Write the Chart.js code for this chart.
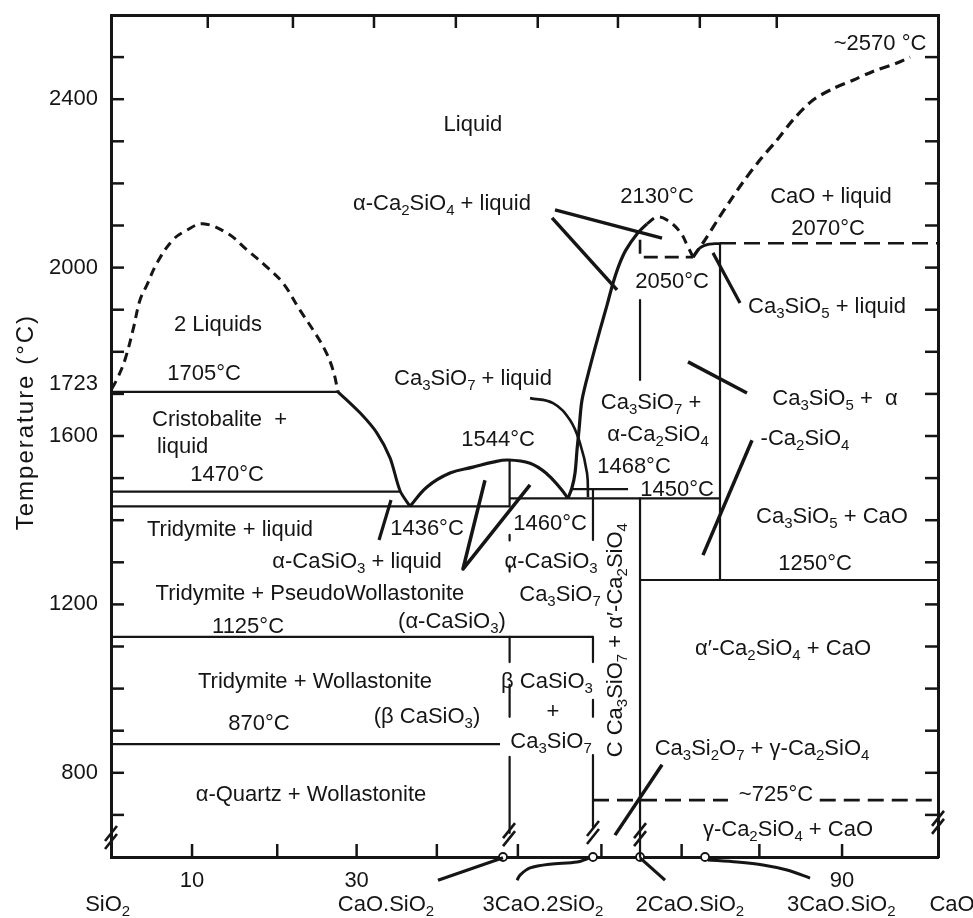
<!DOCTYPE html>
<html><head><meta charset="utf-8">
<script src="https://cdn.jsdelivr.net/npm/chart.js@4.4.1/dist/chart.umd.min.js"></script>
<style>html,body{margin:0;padding:0;background:#fff;}</style>
</head><body>
<canvas id="c" width="973" height="918"></canvas>
<script>
const INK = '#151515';
const FONT = '"Liberation Sans", Arial, sans-serif';

// ---- axes ----
const tempMin = 600, tempMax = 2600;
const yMinorTicks = [700,800,900,1000,1100,1200,1300,1400,1500,1600,1700,1800,1900,2000,2100,2200,2300,2400,2500];
const yLabelled = [800,1200,1600,1723,2000,2400];
const bottomTickPos = [9.8,20.1,29.7,39.4,49.2,59.3,69.0,78.4,88.4];
const bottomTickText = ['10','','30','','','','','','90'];
const topTickPos = [11.7,22.0,31.8,41.7,51.6,61.3,71.2,80.5];
const compoundNames = ['SiO_2','CaO.SiO_2','3CaO.2SiO_2','2CaO.SiO_2','3CaO.SiO_2','CaO'];
const compoundLabelPos = [-0.4,33.25,52.24,70.0,88.3,101.7];
const compoundMarkPos = [47.4,58.28,63.97,71.83];
const breakU = [0,48.13,58.28,63.97,100];
const breakT = [645,652,657,652,681];

// ---- phase boundaries [composition position, temperature] ----
const miscibilityGap = [[0.1,1712],[0.85,1740],[1.69,1781],[2.66,1852],[3.51,1923],[4.35,1959],[5.56,2011],[7.5,2066],[9.19,2089],[11.12,2104],[14.03,2082],[16.45,2042],[18.86,2001],[20.8,1963],[22.85,1899],[24.43,1852],[25.88,1804],[26.84,1757],[27.45,1705]];
const cristobaliteLiquidus = [[27.45,1705],[30.11,1655],[32.16,1607],[33.74,1548],[34.95,1470],[36.16,1433]];
const wollastoniteLiquidus = [[36.16,1433],[38.21,1479],[40.99,1512],[43.77,1526],[46.19,1538],[48.01,1543],[50.67,1535],[52.72,1510],[54.29,1477],[55.26,1452]];
const dicalciumLiquidus = [[55.26,1452],[55.74,1477],[56.11,1512],[56.35,1567],[56.59,1614],[56.95,1685],[57.92,1764],[59.13,1852],[59.98,1911],[60.7,1963],[61.43,2006],[62.27,2042],[63.6,2080],[64.81,2104]];
const dicalciumTop = [[64.81,2104],[66.02,2120],[67.23,2113],[68.8,2085],[69.77,2049],[70.38,2025]];
const limeLiquidus = [[70.38,2025],[71.83,2066],[73.28,2111],[74.85,2158],[76.42,2203],[78.48,2256],[80.53,2303],[82.47,2351],[84.89,2398],[87.3,2425],[89.72,2445],[92.14,2466],[95.04,2486],[96.62,2500]];
const tricalciumHump = [[70.38,2025],[71.22,2047],[72.43,2056],[73.64,2057]];

const isotherm1705 = [[0,1705],[27.45,1705]];
const isotherm1470 = [[0,1468],[34.95,1468]];
const isotherm1436 = [[0,1433],[48.2,1433]];
const isotherm1460 = [[48.2,1452],[73.64,1452]];
const isotherm1468 = [[55.74,1474],[62.52,1474]];
const isotherm1250 = [[63.97,1258],[100,1258]];
const isotherm1125 = [[0,1123],[58.28,1123]];
const isotherm870 = [[0,868],[47.04,868]];
const isotherm2070 = [[73.64,2058],[100,2058]];
const isotherm2050 = [[63.97,2066],[63.97,2025],[70.38,2025]];
const isotherm725 = [[58.28,735],[74.6,735],null,[85.7,735],[100,735]];

const wollastoniteLine = [[48.2,1543],[48.2,1433],null,[48.2,1365],[48.2,1352],null,[48.2,1292],[48.2,1278],null,[48.2,1123],[48.2,1063],null,[48.2,1009],[48.2,933],null,[48.2,838],[48.2,657]];
const rankiniteLine = [[58.28,1474],[58.28,1353],null,[58.28,1123],[58.28,1063],null,[58.28,973],[58.28,933],null,[58.28,842],[58.28,671]];
const dicalciumLine = [[63.97,1923],[63.97,1733],null,[63.97,1452],[63.97,600]];
const tricalciumLine = [[73.64,2057],[73.64,1258]];

// ---- label pointers ----
const pointerA = [[53.69,2137],[66.63,2070]];
const pointerB = [[53.33,2118],[61.19,1947]];
const pointerC = [[72.79,2035],[76.06,1916]];
const pointerD = [[50.67,1690],[53.45,1678],[55.5,1638],[56.71,1583],[57.56,1512],[57.68,1455]];
const pointerE = [[33.86,1448],[32.41,1353]];
const pointerF = [[45.22,1495],[42.56,1284],[50.67,1484]];
const pointerG = [[69.77,1776],[76.9,1702]];
const pointerH = [[77.51,1590],[71.58,1317]];
const pointerI = [[66.63,819],[60.94,652]];
const tagCaSiO3 = [[47.4,598],[39.54,545]];
const tagRankinite = [[57.92,598],[56.35,588],[53.09,583],[50.67,574],[49.46,557],[49.1,545]];
const tagDicalcium = [[63.97,598],[66.99,545]];
const tagTricalcium = [[72.19,593],[75.7,588],[78.84,581],[81.74,569],[84.53,550]];

// ---- region / temperature labels [text, position, temperature, align] ----
const regionLabels = [
 ['Liquid',43.77,2343],['α-Ca_2SiO_4 + liquid',40.02,2156],['2130°C',66.02,2172],['~2570 °C',92.99,2536],
 ['CaO + liquid',87.06,2172],['2070°C',86.7,2096],['2050°C',67.84,1971],['Ca_3SiO_5 + liquid',86.58,1911],
 ['2 Liquids',12.94,1868],['1705°C',11.25,1752],['Cristobalite  +',4.96,1643,'left'],['liquid',5.56,1579,'left'],
 ['1470°C',14.03,1512],['Ca_3SiO_7 + liquid',43.77,1740],['1544°C',46.8,1595],['Ca_3SiO_7 +',65.3,1683],
 ['α-Ca_2SiO_4',66.14,1607],['Ca_3SiO_5 +  α',87.55,1693],['-Ca_2SiO_4',83.92,1598],['1468°C',63.24,1531],
 ['1450°C',68.44,1477],['Tridymite + liquid',14.39,1381],['1436°C',38.21,1384],['1460°C',53.09,1396],
 ['Ca_3SiO_5 + CaO',87.18,1412],['α-CaSiO_3 + liquid',29.75,1305],['α-CaSiO_3',53.21,1305],['1250°C',85.13,1301],
 ['Tridymite + PseudoWollastonite',24.06,1229],['Ca_3SiO_7',54.29,1227],['(α-CaSiO_3)',41.23,1163],['1125°C',16.57,1151],
 ['α′-Ca_2SiO_4 + CaO',81.26,1099],['Tridymite + Wollastonite',24.67,1020],['β CaSiO_3',52.72,1020],['+',53.45,949],
 ['(β CaSiO_3)',38.21,937],['870°C',17.9,921],['Ca_3SiO_7',53.21,878],['Ca_3Si_2O_7 + γ-Ca_2SiO_4',78.72,861],
 ['α-Quartz + Wollastonite',24.18,752],['~725°C',80.41,752],['γ-Ca_2SiO_4 + CaO',81.86,669]
];
const verticalLabel = ['C Ca_3SiO_7 + α′-Ca_2SiO_4',60.82,1115];
const axisTitle = 'Temperature (°C)';
const axisTitleT = 1633;

// ---------- helpers ----------
function pts(a){ return a.map(p => p ? {x:p[0], y:p[1]} : {x:NaN, y:NaN}); }
function curve(points, width, dash, tension){
  return { data: pts(points), showLine:true, pointRadius:0, pointHoverRadius:0, borderColor:INK,
    borderWidth:width, borderDash:dash||[], tension:tension||0, fill:false, spanGaps:false,
    clip:false, xAxisID:'x', yAxisID:'y', borderCapStyle:'butt', borderJoinStyle:'round' };
}
function richParts(s){
  const parts=[]; let buf='';
  for(let i=0;i<s.length;i++){
    if(s[i]==='_'){ if(buf){parts.push([buf,false]);buf='';} parts.push([s[i+1],true]); i++; }
    else buf+=s[i];
  }
  if(buf) parts.push([buf,false]);
  return parts;
}
function drawRich(ctx, s, x, y, align, size){
  size = size || 22; const sub = Math.round(size*0.66);
  const parts = richParts(s);
  let w = 0;
  parts.forEach(p=>{ ctx.font = (p[1]?sub:size)+'px '+FONT; w += ctx.measureText(p[0]).width; });
  let cx = align==='left' ? x : (align==='right' ? x-w : x-w/2);
  const base = y + size*0.36;
  ctx.textAlign='left'; ctx.textBaseline='alphabetic';
  parts.forEach(p=>{
    ctx.font = (p[1]?sub:size)+'px '+FONT;
    ctx.fillText(p[0], cx, p[1] ? base + size*0.24 : base);
    cx += ctx.measureText(p[0]).width;
  });
}

const decor = {
  id:'decor',
  afterDatasetsDraw(chart){
    const {ctx, chartArea:a, scales} = chart;
    const {x, y, x2, y2} = scales;
    ctx.save();
    ctx.strokeStyle = INK; ctx.fillStyle = INK; ctx.lineWidth = 2.5; ctx.lineCap='butt';
    const L = 13;
    const seg = (x1,y1,x3,y3)=>{ ctx.beginPath(); ctx.moveTo(x1,y1); ctx.lineTo(x3,y3); ctx.stroke(); };
    x.ticks.forEach(t=>{ const p=x.getPixelForValue(t.value); seg(p,a.bottom,p,a.bottom-L); });
    x2.ticks.forEach(t=>{ const p=x2.getPixelForValue(t.value); seg(p,a.top,p,a.top+L); });
    y.ticks.forEach(t=>{ if(!yMinorTicks.includes(t.value)) return; const p=y.getPixelForValue(t.value); seg(a.left,p,a.left+L,p); });
    y2.ticks.forEach(t=>{ const p=y2.getPixelForValue(t.value); seg(a.right,p,a.right-L,p); });
    // axis breaks
    ctx.lineWidth = 2.6;
    breakU.forEach((u,i)=>{
      const px=x.getPixelForValue(u), py=y.getPixelForValue(breakT[i]);
      seg(px-6,py+3,px+6,py-12); seg(px-6,py+11,px+6,py-4);
    });
    // region labels
    regionLabels.forEach(l=>{ drawRich(ctx, l[0], x.getPixelForValue(l[1]), y.getPixelForValue(l[2]), l[3]||'center'); });
    // vertical label
    ctx.save();
    ctx.translate(x.getPixelForValue(verticalLabel[1]), y.getPixelForValue(verticalLabel[2]));
    ctx.rotate(-Math.PI/2);
    drawRich(ctx, verticalLabel[0], 0, 0, 'center');
    ctx.restore();
    // compound labels under the axis
    compoundNames.forEach((n,i)=>{ drawRich(ctx, n, x.getPixelForValue(compoundLabelPos[i]), y.getPixelForValue(491), 'center'); });
    // axis title
    ctx.save();
    ctx.translate(26, y.getPixelForValue(axisTitleT));
    ctx.rotate(-Math.PI/2);
    try { ctx.letterSpacing = '2px'; } catch(e){}
    ctx.font = '24px '+FONT; ctx.textAlign='center'; ctx.textBaseline='middle';
    ctx.fillText(axisTitle, 0, 0);
    ctx.restore();
    ctx.restore();
  }
};

const datasets = [
  curve(isotherm1705,2.2), curve(isotherm1470,2.2), curve(isotherm1436,2.2), curve(isotherm1460,2.2),
  curve(isotherm1468,2.2), curve(isotherm1250,2.2), curve(isotherm1125,2.2), curve(isotherm870,2.2),
  curve(wollastoniteLine,2.2), curve(rankiniteLine,2.2), curve(dicalciumLine,2.2), curve(tricalciumLine,2.2),
  curve(cristobaliteLiquidus,3,null,0.3), curve(wollastoniteLiquidus,3.2,null,0.4),
  curve(dicalciumLiquidus,3.2,null,0.3), curve(tricalciumHump,2.8,null,0.4),
  curve(miscibilityGap,3,[9,6],0.4), curve(dicalciumTop,3,[9,6],0.4), curve(limeLiquidus,3.2,[10,6],0.3),
  curve(isotherm2070,2.6,[16,8]), curve(isotherm2050,2.6,[14,7]), curve(isotherm725,2.6,[16,8]),
  curve(pointerA,3.5), curve(pointerB,3.5), curve(pointerC,3.2), curve(pointerD,2.6,null,0.4),
  curve(pointerE,3.2), curve(pointerF,3.5), curve(pointerG,3.5), curve(pointerH,3.5), curve(pointerI,3.5),
  curve(tagCaSiO3,3.2), curve(tagRankinite,3,null,0.3), curve(tagDicalcium,3.2), curve(tagTricalcium,3,null,0.3),
  { data: compoundMarkPos.map(u=>({x:u,y:tempMin})), showLine:false, pointRadius:4, pointHoverRadius:4,
    pointBackgroundColor:'#fff', pointBorderColor:INK, pointBorderWidth:1.8, clip:false, xAxisID:'x', yAxisID:'y' }
];

const axisBase = { type:'linear', grid:{display:false, drawTicks:false}, border:{display:true, color:INK, width:3} };

new Chart(document.getElementById('c'), {
  type:'scatter',
  data:{ datasets },
  options:{
    responsive:false, animation:false, devicePixelRatio:1,
    layout:{ padding:{top:15, right:35, left:0, bottom:0} },
    plugins:{ legend:{display:false}, tooltip:{enabled:false} },
    events:[],
    scales:{
      x: Object.assign({}, axisBase, { position:'bottom', axis:'x', min:0, max:100,
        afterBuildTicks: s=>{ s.ticks = bottomTickPos.map(v=>({value:v})); },
        afterFit: s=>{ s.height = 61; s.paddingLeft = 0; s.paddingRight = 0; },
        ticks:{ autoSkip:false, maxRotation:0, padding:11, color:INK, font:{family:'Liberation Sans', size:22},
          callback:(v,i)=>bottomTickText[i] } }),
      y: Object.assign({}, axisBase, { position:'left', axis:'y', min:tempMin, max:tempMax,
        afterBuildTicks: s=>{ s.ticks = yMinorTicks.concat([1723]).sort((p,q)=>p-q).map(v=>({value:v})); },
        afterFit: s=>{ s.width = 111; s.paddingTop = 0; s.paddingBottom = 0; },
        ticks:{ autoSkip:false, padding:13, color:INK, font:{family:'Liberation Sans', size:22},
          callback:v=> yLabelled.includes(v) ? String(v) : '' } }),
      x2: Object.assign({}, axisBase, { position:'top', axis:'x', min:0, max:100,
        afterBuildTicks: s=>{ s.ticks = topTickPos.map(v=>({value:v})); },
        afterFit: s=>{ s.height = 0; s.paddingLeft = 0; s.paddingRight = 0; },
        ticks:{ display:false } }),
      y2: Object.assign({}, axisBase, { position:'right', axis:'y', min:tempMin, max:tempMax,
        afterBuildTicks: s=>{ s.ticks = yMinorTicks.map(v=>({value:v})); },
        afterFit: s=>{ s.width = 0; s.paddingTop = 0; s.paddingBottom = 0; },
        ticks:{ display:false } })
    }
  },
  plugins:[decor]
});
</script>
</body></html>
